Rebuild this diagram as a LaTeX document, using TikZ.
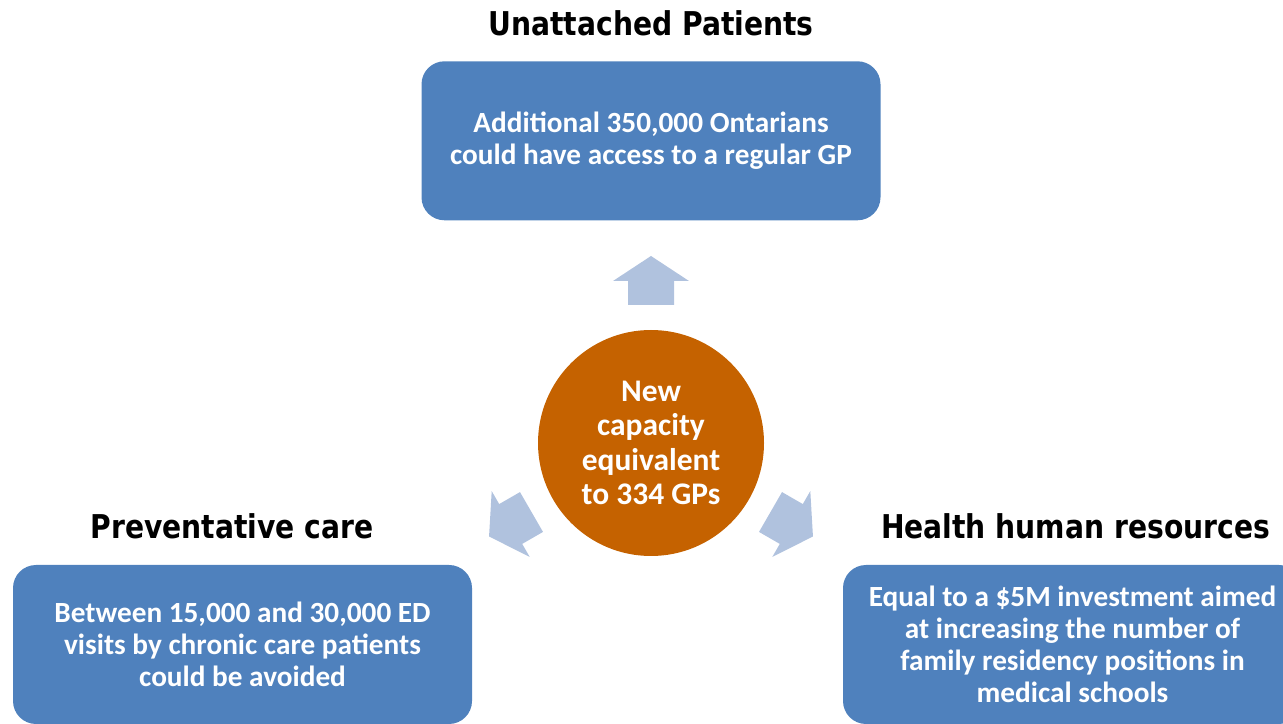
\documentclass[tikz,border=0pt]{standalone}
\usepackage{fontspec}
\setmainfont{Carlito}
\newfontfamily\headfont{DejaVu Sans}[FakeStretch=0.86]
\usetikzlibrary{positioning}
\definecolor{boxblue}{HTML}{4F81BD}
\definecolor{hubbrown}{HTML}{C56200}
\definecolor{arrowblue}{HTML}{B0C2DE}

\begin{document}
\begin{tikzpicture}[
    box/.style={rectangle, rounded corners=0.46cm, fill=boxblue, text=white, minimum width=9.18cm, minimum height=3.18cm, align=center, font=\bfseries\fontsize{16.65}{18.14}\selectfont},
    hub/.style={circle, fill=hubbrown, text=white, minimum size=4.52cm, inner sep=0pt, align=center, font=\bfseries\fontsize{17.9}{19.6}\selectfont},
    heading/.style={inner sep=0pt, font=\headfont\bfseries\fontsize{18.65}{20}\selectfont},
    node distance=2.18cm]
  \useasboundingbox (0,0) rectangle (25.66,14.46);

  \node[hub]     (cap)        at (13.02,5.6)   {New\\capacity\\equivalent\\to 334 GPs};
  \node[box]     (unattached) [above=of cap]   {Additional 350,000 Ontarians\\could have access to a regular GP};
  \node[box]     (prevent)    at (4.85,1.57)   {Between 15,000 and 30,000 ED\\visits by chronic care patients\\could be avoided};
  \node[box]     (hhr)        at (21.45,1.57)  {Equal to a \$5M investment aimed\\at increasing the number of\\family residency positions in\\medical schools};

  \node[heading] (unattachedhead) [above=0.5cm of unattached]             {Unattached Patients};
  \node[heading] (preventhead)    [above=0.5cm of prevent, xshift=-0.21cm] {Preventative care};
  \node[heading] (hhrhead)        [above=0.5cm of hhr, xshift=0.06cm]      {Health human resources};

  \foreach \ang in {0,120,240}
    \fill[arrowblue, shift={(cap.center)}, rotate=\ang]
      (-0.46,2.76) -- (0.46,2.76) -- (0.46,3.24) -- (0.76,3.24) -- (0,3.74) -- (-0.76,3.24) -- (-0.46,3.24) -- cycle;
\end{tikzpicture}
\end{document}
